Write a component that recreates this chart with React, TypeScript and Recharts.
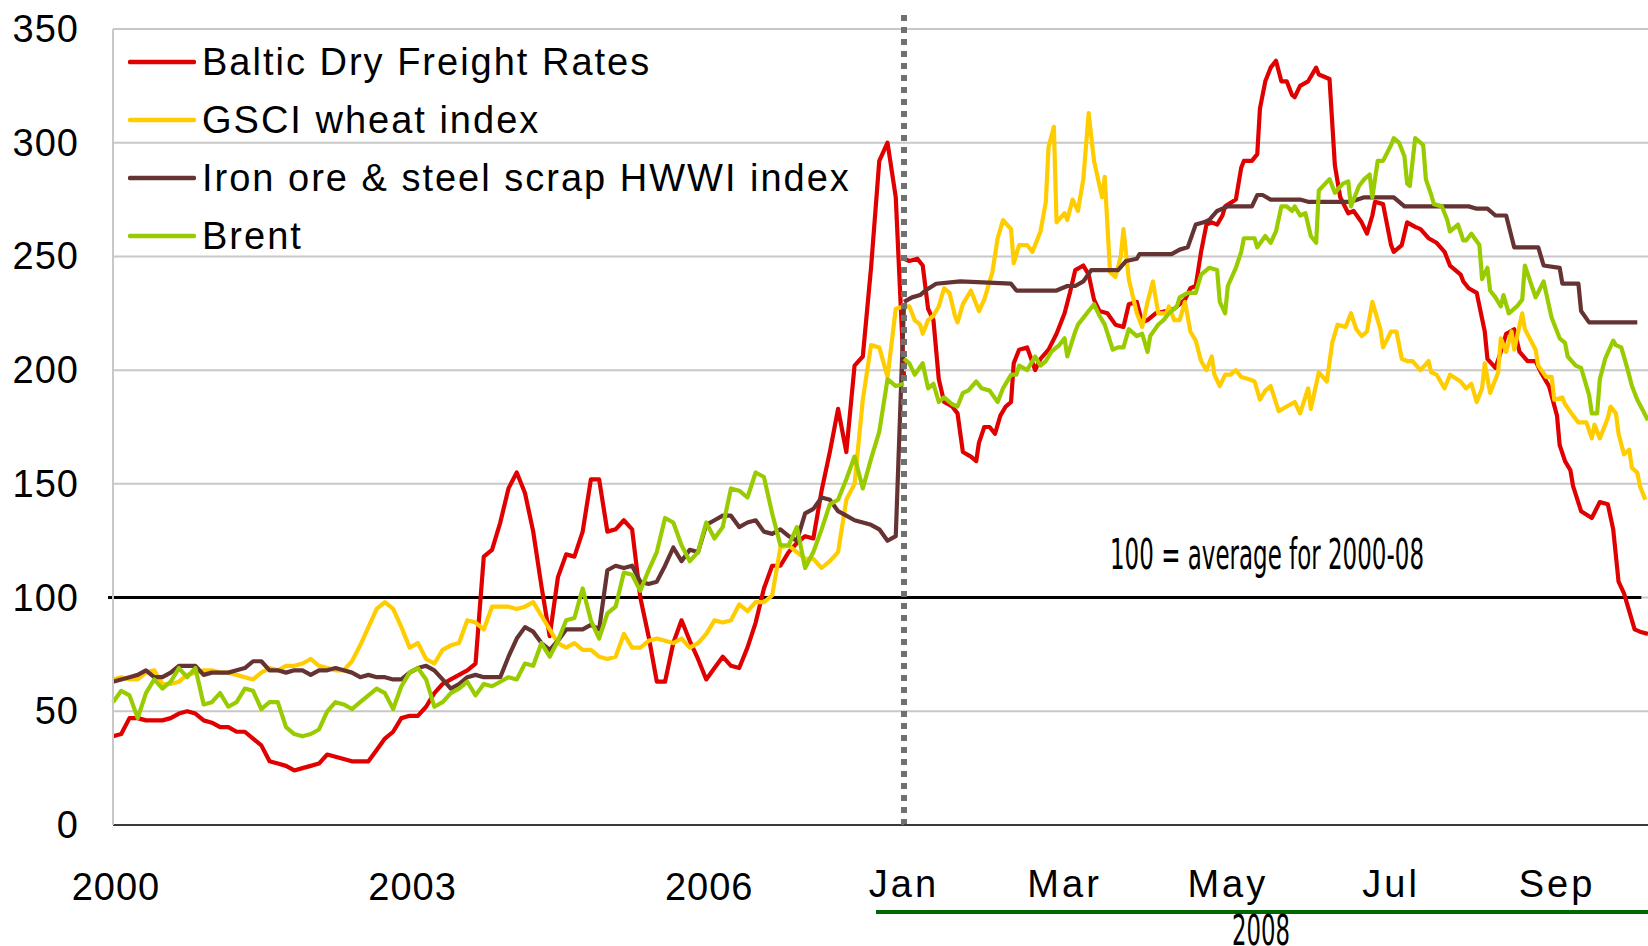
import { LineChart, Line, XAxis, YAxis, CartesianGrid, ReferenceLine, Legend } from 'recharts'

const FONT = "'Liberation Sans', Arial, sans-serif"
const NARROW = "'Liberation Sans Narrow', 'DejaVu Sans Condensed', 'Liberation Sans', sans-serif"

const seriesNames = ['Baltic Dry Freight Rates', 'GSCI wheat index', 'Iron ore & steel scrap HWWI index', 'Brent']
const seriesKeys = ['baltic', 'wheat', 'iron', 'brent']
const seriesColors = ['#e00000', '#ffcc00', '#663333', '#99cc00']

const yTicks = [0, 50, 100, 150, 200, 250, 300, 350]
const yearTicks = [0, 36, 72]
const yearLabels = ['2000', '2003', '2006']
const monthTicks = [0, 60, 121, 182, 244]
const monthLabels = ['Jan', 'Mar', 'May', 'Jul', 'Sep']

// monthly index, 0 = Jan 2000 ... 96 = Jan 2008
const months = Array.from({ length: 97 }, (_, i) => i)

const balticMonthly = [
  39, 40, 47, 47, 46, 46, 46, 47, 49, 50,
  49, 46, 45, 43, 43, 41, 41, 38, 35, 28,
  27, 26, 24, 25, 26, 27, 31, 30, 29, 28,
  28, 28, 33, 38, 41, 47, 48, 48, 52, 58,
  62, 64, 66, 68, 71, 118, 121, 133, 148, 155,
  146, 129, 105, 83, 109, 119, 118, 129, 152, 152,
  129, 130, 134, 130, 100, 83, 63, 63, 80, 90,
  81, 73, 64, 69, 74, 70, 69, 78, 89, 104,
  114, 114, 120, 124, 127, 126, 147, 164, 183, 164,
  202, 206, 245, 292, 300, 276, 197,
]
const wheatMonthly = [
  64, 65, 64, 64, 67, 68, 62, 62, 63, 66,
  67, 68, 68, 67, 67, 66, 65, 64, 67, 69,
  68, 70, 70, 71, 73, 70, 69, 68, 68, 72,
  79, 87, 95, 98, 95, 87, 78, 80, 73, 71,
  77, 79, 80, 90, 89, 86, 96, 96, 96, 95,
  96, 98, 92, 86, 80, 78, 80, 77, 77, 74,
  73, 74, 84, 78, 78, 81, 82, 81, 80, 82,
  78, 80, 84, 90, 89, 90, 97, 94, 98, 98,
  101, 122, 123, 120, 117, 117, 113, 116, 120, 143,
  150, 187, 211, 210, 197, 227, 228,
]
const ironMonthly = [
  63, 64, 65, 66, 68, 65, 65, 67, 70, 70,
  70, 66, 67, 67, 67, 68, 69, 72, 72, 68,
  68, 67, 68, 68, 66, 68, 68, 69, 68, 67,
  65, 66, 65, 65, 64, 64, 67, 69, 70, 68,
  64, 60, 62, 65, 66, 65, 65, 65, 74, 82,
  87, 85, 80, 77, 81, 86, 86, 86, 88, 86,
  112, 114, 113, 114, 107, 106, 107, 114, 122, 116,
  121, 120, 132, 134, 136, 136, 131, 133, 134, 129,
  128, 130, 127, 125, 137, 139, 144, 143, 138, 136,
  134, 133, 132, 130, 125, 127, 229,
]
const brentMonthly = [
  54, 59, 57, 47, 58, 64, 60, 63, 69, 65,
  69, 53, 54, 58, 52, 54, 60, 59, 51, 54,
  54, 43, 40, 39, 40, 42, 50, 54, 53, 51,
  54, 57, 60, 58, 51, 61, 67, 69, 64, 52,
  54, 58, 60, 63, 57, 62, 61, 63, 65, 64,
  71, 70, 80, 74, 81, 90, 91, 104, 90, 82,
  93, 96, 111, 110, 103, 112, 120, 135, 133, 123,
  116, 120, 133, 126, 131, 148, 147, 144, 155, 153,
  137, 123, 123, 131, 113, 120, 130, 141, 143, 152,
  162, 148, 161, 173, 196, 193, 194,
]

// 2008, [day of year, value]
const baltic2008 = [
  [0, 249], [2, 248], [5, 249], [7, 246], [9, 227], [11, 222], [13, 196], [15, 186], [18, 184], [20, 181],
  [22, 164], [25, 162], [27, 160], [28, 168], [30, 175], [32, 175], [34, 172], [36, 180], [38, 184], [40, 186],
  [41, 203], [43, 209], [46, 210], [49, 200], [51, 205], [54, 209], [57, 216], [60, 225], [62, 234], [64, 244],
  [67, 246], [69, 242], [71, 231], [73, 226], [76, 225], [79, 220], [82, 219], [84, 229], [87, 230], [89, 221],
  [91, 222], [94, 225], [98, 226], [101, 227], [103, 229], [105, 231], [107, 236], [109, 237], [111, 252], [113, 264],
  [115, 265], [117, 264], [119, 268], [120, 272], [124, 275], [125, 282], [126, 289], [127, 292], [130, 292], [132, 295],
  [133, 315], [135, 327], [137, 333], [139, 336], [141, 327], [143, 327], [145, 321], [146, 320], [148, 325], [151, 327],
  [154, 333], [155, 330], [159, 328], [161, 290], [163, 276], [166, 269], [168, 270], [171, 265], [173, 260], [175, 268],
  [176, 274], [179, 273], [182, 255], [183, 252], [186, 255], [188, 265], [191, 263], [193, 262], [196, 258], [199, 256],
  [202, 252], [204, 246], [208, 242], [209, 239], [211, 236], [214, 234], [217, 217], [218, 205], [221, 201], [223, 208],
  [225, 216], [228, 218], [230, 208], [233, 204], [236, 204], [238, 199], [241, 193], [244, 180], [245, 167], [247, 160],
  [249, 156], [250, 149], [253, 138], [257, 135], [260, 142], [263, 141], [265, 130], [267, 107], [269, 102], [270, 98],
  [273, 86], [275, 85], [278, 84],
]
const wheat2008 = [
  [0, 228], [2, 228], [4, 222], [6, 220], [7, 216], [9, 222], [11, 224], [13, 228], [15, 236], [17, 234],
  [19, 224], [20, 221], [22, 229], [25, 235], [28, 226], [30, 231], [33, 243], [35, 258], [37, 266], [40, 262],
  [41, 247], [43, 255], [46, 255], [48, 252], [51, 261], [53, 274], [54, 298], [56, 307], [57, 265], [60, 269],
  [61, 266], [63, 275], [65, 270], [67, 284], [69, 313], [71, 292], [74, 276], [75, 285], [77, 243], [79, 241],
  [81, 250], [82, 262], [84, 240], [87, 225], [89, 219], [91, 230], [93, 239], [95, 225], [98, 225], [99, 228],
  [101, 222], [103, 222], [105, 230], [107, 217], [109, 213], [111, 204], [113, 200], [115, 206], [116, 198], [118, 193],
  [120, 198], [122, 198], [124, 200], [126, 197], [129, 196], [131, 195], [133, 187], [135, 191], [137, 193], [140, 182],
  [143, 184], [146, 186], [148, 181], [151, 192], [152, 183], [155, 199], [158, 195], [160, 212], [162, 220], [165, 219],
  [167, 225], [169, 218], [171, 215], [173, 217], [175, 230], [178, 218], [179, 210], [182, 217], [184, 217], [186, 205],
  [188, 204], [190, 204], [193, 200], [196, 204], [197, 199], [199, 198], [202, 192], [204, 198], [208, 195], [210, 192],
  [212, 194], [214, 186], [216, 192], [217, 203], [219, 190], [222, 199], [223, 214], [225, 208], [227, 217], [228, 209],
  [231, 225], [232, 218], [236, 209], [237, 202], [240, 197], [242, 197], [243, 187], [246, 188], [247, 185], [250, 180],
  [252, 177], [255, 177], [257, 170], [258, 176], [260, 170], [263, 179], [264, 184], [266, 181], [267, 172], [269, 163],
  [271, 165], [272, 157], [274, 155], [275, 149], [277, 143],
]
const iron2008 = [
  [0, 230], [3, 232], [6, 233], [8, 235], [12, 238], [21, 239], [40, 238], [42, 235], [57, 235], [61, 237],
  [64, 237], [67, 239], [70, 244], [80, 244], [83, 248], [87, 249], [88, 251], [100, 251], [103, 253], [106, 254],
  [109, 264], [112, 265], [114, 266], [117, 270], [119, 271], [121, 272], [130, 272], [132, 277], [134, 277], [137, 275],
  [148, 275], [151, 274], [167, 274], [172, 276], [183, 276], [187, 272], [211, 272], [214, 271], [218, 271], [221, 268],
  [225, 268], [228, 254], [237, 254], [239, 246], [245, 245], [246, 238], [252, 238], [253, 226], [256, 221], [274, 221],
]
const brent2008 = [
  [0, 205], [2, 203], [4, 198], [7, 203], [9, 192], [11, 194], [13, 186], [15, 188], [18, 185], [20, 184],
  [22, 190], [24, 191], [27, 195], [29, 192], [32, 191], [35, 186], [37, 192], [40, 198], [42, 198], [43, 202],
  [46, 200], [49, 206], [51, 202], [53, 204], [55, 208], [58, 211], [60, 214], [61, 206], [64, 217], [65, 220],
  [67, 223], [69, 226], [71, 229], [73, 224], [75, 220], [78, 209], [80, 210], [82, 210], [84, 218], [87, 215],
  [89, 216], [91, 208], [92, 215], [95, 220], [97, 222], [99, 225], [102, 228], [103, 232], [106, 234], [109, 234],
  [111, 242], [114, 245], [117, 244], [118, 230], [120, 225], [121, 237], [124, 245], [126, 252], [127, 258], [131, 258],
  [132, 254], [135, 259], [137, 256], [139, 261], [141, 272], [143, 272], [145, 270], [146, 272], [148, 268], [150, 269],
  [152, 259], [154, 256], [155, 279], [159, 284], [161, 278], [164, 282], [166, 283], [167, 272], [170, 281], [172, 284],
  [174, 286], [175, 276], [177, 292], [179, 292], [182, 299], [183, 302], [185, 300], [187, 294], [188, 282], [189, 281],
  [191, 302], [194, 299], [195, 284], [197, 277], [198, 273], [201, 272], [203, 266], [204, 261], [207, 264], [209, 257],
  [210, 257], [212, 260], [215, 255], [216, 240], [218, 245], [219, 235], [221, 232], [223, 228], [224, 233], [226, 225],
  [229, 228], [231, 231], [232, 246], [234, 239], [236, 232], [239, 239], [242, 223], [245, 214], [247, 212], [248, 206],
  [251, 202], [253, 201], [256, 189], [257, 181], [259, 181], [260, 196], [262, 205], [265, 213], [266, 211], [268, 210],
  [270, 202], [272, 193], [274, 187], [278, 178],
]

const leftData = months.map((m, i) => ({
  m,
  baltic: balticMonthly[i],
  wheat: wheatMonthly[i],
  iron: ironMonthly[i],
  brent: brentMonthly[i],
}))

const rightSeries = [baltic2008, wheat2008, iron2008, brent2008].map((s) => s.map(([d, v]) => ({ d, v })))

function LegendBox() {
  return (
    <div style={{ fontFamily: FONT, fontSize: 38, letterSpacing: 2, color: '#000' }}>
      {seriesNames.map((name, i) => (
        <div key={name} style={{ display: 'flex', alignItems: 'center', height: 58, whiteSpace: 'nowrap' }}>
          <svg width={68} height={8} style={{ display: 'block' }}>
            <line x1={2} y1={4} x2={66} y2={4} stroke={seriesColors[i]} strokeWidth={4.5} strokeLinecap="round" />
          </svg>
          <span style={{ marginLeft: 6 }}>{name}</span>
        </div>
      ))}
    </div>
  )
}

const YTick = (p: any) => (
  <text x={79} y={p.y + 13} textAnchor="end" fontSize={38} letterSpacing={1} fill="#000" fontFamily={FONT}>
    {p.payload.value}
  </text>
)

const YearTick = (p: any) => (
  <text x={p.x + 3} y={900} textAnchor="middle" fontSize={38} letterSpacing={1} fill="#000" fontFamily={FONT}>
    {yearLabels[yearTicks.indexOf(p.payload.value)]}
  </text>
)

const MonthTick = (p: any) => (
  <text x={p.x} y={897} textAnchor="middle" fontSize={38} letterSpacing={3} fill="#000" fontFamily={FONT}>
    {monthLabels[monthTicks.indexOf(p.payload.value)]}
  </text>
)

const YearBand = (p: any) => {
  const vb = p.viewBox
  return (
    <g>
      <line x1={vb.x - 28} x2={vb.x + vb.width} y1={912} y2={912} stroke="#006600" strokeWidth={4} />
      <text x={1261 - 860} y={945} textAnchor="middle" fontSize={43} fill="#000" fontFamily={NARROW} textLength={58} lengthAdjust="spacingAndGlyphs">
        2008
      </text>
    </g>
  )
}

const AverageNote = (p: any) => {
  const vb = p.viewBox
  return (
    <text x={vb.x + 206} y={vb.y - 29} fontSize={43} fill="#000" fontFamily={NARROW} textLength={314} lengthAdjust="spacingAndGlyphs">
      100 = average for 2000-08
    </text>
  )
}

const Divider = (p: any) => (
  <line
    x1={p.x1}
    x2={p.x2}
    y1={Math.min(p.y1, p.y2) - 14}
    y2={Math.max(p.y1, p.y2)}
    stroke="#707070"
    strokeWidth={6}
    strokeDasharray="6 6"
  />
)

export default function App() {
  return (
    <div style={{ position: 'absolute', left: 0, top: 0, width: 1648, height: 946, background: '#fff', fontFamily: FONT, overflow: 'hidden' }}>
      <div style={{ position: 'absolute', left: 0, top: 0 }}>
        <LineChart width={912} height={946} data={leftData} margin={{ top: 29, right: 8, bottom: 0, left: 0 }}>
          <CartesianGrid vertical={false} stroke="#c8c8c8" strokeWidth={2} />
          <XAxis
            dataKey="m"
            type="number"
            domain={[0, 96]}
            ticks={yearTicks}
            height={121}
            tickLine={false}
            axisLine={{ stroke: '#3a3a3a', strokeWidth: 2 }}
            tick={YearTick}
            interval={0}
          />
          <YAxis
            domain={[0, 350]}
            ticks={yTicks}
            width={113}
            tickLine={false}
            axisLine={{ stroke: '#c8c8c8', strokeWidth: 2 }}
            tick={YTick}
            interval={0}
          />
          <ReferenceLine
            segment={[{ x: -0.6, y: 100 }, { x: 96, y: 100 }]}
            ifOverflow="visible"
            stroke="#000"
            strokeWidth={3}
          />
          {seriesKeys.map((k, i) => (
            <Line
              key={k}
              dataKey={k}
              stroke={seriesColors[i]}
              strokeWidth={4.2}
              strokeLinejoin="round"
              dot={false}
              activeDot={false}
              isAnimationActive={false}
            />
          ))}
          <Legend
            layout="vertical"
            align="center"
            verticalAlign="middle"
            content={<LegendBox />}
            wrapperStyle={{ left: 128, top: 33, width: 760 }}
          />
        </LineChart>
      </div>
      <div style={{ position: 'absolute', left: 860, top: 0 }}>
        <LineChart width={788} height={946} margin={{ top: 29, right: 0, bottom: 0, left: 44 }}>
          <CartesianGrid vertical={false} stroke="#c8c8c8" strokeWidth={2} />
          <XAxis
            dataKey="d"
            type="number"
            domain={[0, 278]}
            ticks={monthTicks}
            height={121}
            tickLine={false}
            axisLine={{ stroke: '#3a3a3a', strokeWidth: 2 }}
            tick={MonthTick}
            interval={0}
            label={{ content: YearBand }}
          />
          <YAxis hide domain={[0, 350]} ticks={yTicks} />
          <ReferenceLine
            segment={[{ x: 0, y: 100 }, { x: 275.5, y: 100 }]}
            stroke="#000"
            strokeWidth={3}
            label={{ content: AverageNote }}
          />
          {rightSeries.map((s, i) => (
            <Line
              key={seriesKeys[i]}
              data={s}
              dataKey="v"
              stroke={seriesColors[i]}
              strokeWidth={4.2}
              strokeLinejoin="round"
              dot={false}
              activeDot={false}
              isAnimationActive={false}
            />
          ))}
          <ReferenceLine x={0} stroke="#707070" shape={Divider} />
        </LineChart>
      </div>
    </div>
  )
}
